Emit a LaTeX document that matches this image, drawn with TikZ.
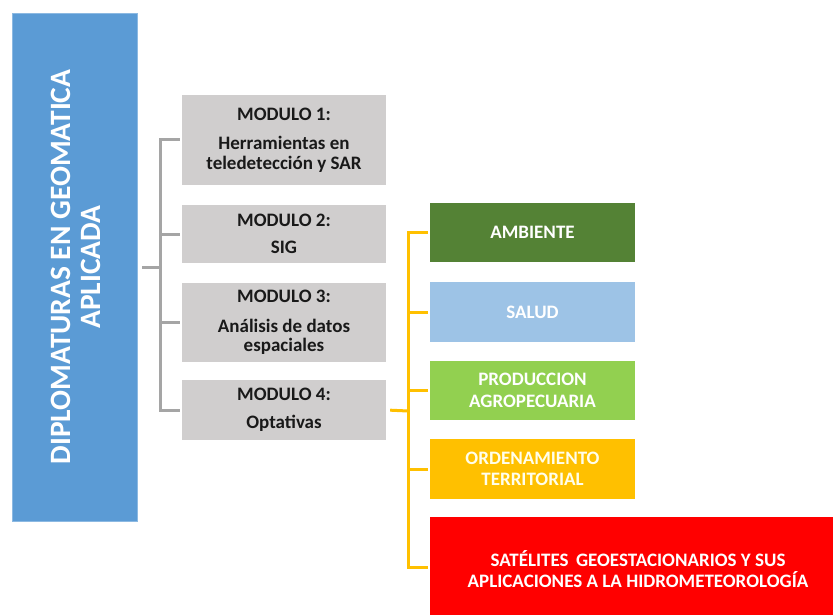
\documentclass[tikz,border=0pt]{standalone}
\usepackage{fontspec}
\setmainfont{Carlito}
\definecolor{mainblue}{HTML}{5B9BD5}
\definecolor{modgray}{HTML}{D0CECE}
\definecolor{lingray}{HTML}{A5A5A5}
\definecolor{linyel}{HTML}{FFC000}
\definecolor{ambgreen}{HTML}{548235}
\definecolor{salblue}{HTML}{9DC3E6}
\definecolor{prodgreen}{HTML}{92D050}
\definecolor{ordyel}{HTML}{FFC000}
\definecolor{satred}{HTML}{FF0000}
\begin{document}
\begin{tikzpicture}[x=1pt,y=-1pt,
  modbox/.style={rectangle,fill=modgray,minimum width=204pt,inner sep=0pt,align=center,
    font=\fontsize{19}{19.5}\selectfont\bfseries,text=black!90},
  optbox/.style={rectangle,minimum width=205pt,inner sep=0pt,align=center,
    font=\fontsize{19}{21.5}\selectfont\bfseries,text=white},
  grayline/.style={draw=lingray,line width=3pt},
  yelline/.style={draw=linyel,line width=3pt}]
\useasboundingbox (0,0) rectangle (833,615);
\node[rectangle,fill=mainblue,draw=mainblue!70!white,line width=0.6pt,minimum width=125pt,minimum height=508pt,inner sep=0pt] (blue) at (74.5,267) {};
\node[rotate=90,align=center,text=white,font=\fontsize{29.5}{29.5}\selectfont\bfseries] (bluetext) at (76,267) {DIPLOMATURAS EN GEOMATICA\\APLICADA};
\node[modbox,minimum height=90pt] (m1) at (284,140) {MODULO 1:\\[10pt]Herramientas en\\teledetección y SAR};
\node[modbox,minimum height=58pt] (m2) at (284,234) {MODULO 2:\\[8pt]SIG};
\node[modbox,minimum height=79pt] (m3) at (284,322.5) {MODULO 3:\\[10pt]Análisis de datos\\espaciales};
\node[modbox,minimum height=60pt] (m4) at (284,410) {MODULO 4:\\[8pt]Optativas};
\node[optbox,fill=ambgreen,minimum height=59pt] (amb) at (532.5,232.5) {AMBIENTE};
\node[optbox,fill=salblue,minimum height=60pt] (sal) at (532.5,312) {SALUD};
\node[optbox,fill=prodgreen,minimum height=59pt] (prod) at (532.5,390.5) {PRODUCCION\\AGROPECUARIA};
\node[optbox,fill=ordyel,minimum height=60pt,text=white!92!yellow] (ord) at (532.5,469) {ORDENAMIENTO\\TERRITORIAL};
\node[optbox,fill=satred,minimum width=416pt,minimum height=104pt] (sat) at (638,569) {SATÉLITES \,GEOESTACIONARIOS Y SUS\\APLICACIONES A LA HIDROMETEOROLOGÍA};
\coordinate (gj) at (160,267);
\coordinate (yj) at (408,411);
\draw[grayline,shorten <=5pt] (blue.east) -- (gj);
\draw[grayline,shorten >=2pt] (gj) |- (m1.west);
\draw[grayline,shorten >=2pt] (gj) |- (m2.west);
\draw[grayline,shorten >=2pt] (gj) |- (m3.west);
\draw[grayline,shorten >=2pt] (gj) |- (m4.west);
\draw[yelline,shorten <=4pt] (m4.east) -- (yj);
\draw[yelline,shorten >=2pt] (yj) |- (amb.west);
\draw[yelline,shorten >=2pt] (yj) |- (sal.west);
\draw[yelline,shorten >=2pt] (yj) |- (prod.west);
\draw[yelline,shorten >=2pt] (yj) |- (ord.west);
\draw[yelline,shorten >=2pt] (yj) |- (sat.west |- 0,567);
\end{tikzpicture}
\end{document}
